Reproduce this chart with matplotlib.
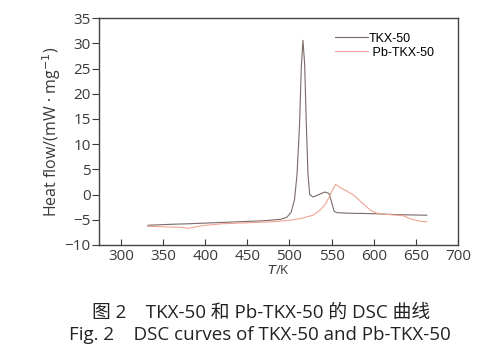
import matplotlib
matplotlib.use("Agg")
import matplotlib.pyplot as plt

plt.rcParams['font.family'] = ['Open Sans', 'Noto Sans CJK SC', 'DejaVu Sans']

# TKX-50 curve (T in K, heat flow in mW/mg)
tkx_T = [332, 360, 380, 410, 440, 470, 490, 497, 502, 506, 509, 512, 514, 516,
         518, 520, 522, 524, 528, 535, 542, 547, 550, 553, 556, 570, 600, 630, 663]
tkx_v = [-6.1, -5.9, -5.8, -5.6, -5.4, -5.2, -4.9, -4.5, -3.5, -1.0, 4.0, 14.0, 25.0, 30.6,
         26.0, 14.0, 4.0, 0.0, -0.5, 0.0, 0.5, 0.2, -1.5, -3.3, -3.6, -3.7, -3.8, -4.0, -4.1]

# Pb-TKX-50 curve
pb_T = [332, 350, 370, 380, 395, 420, 450, 480, 500, 515, 528, 537, 543, 548,
        552, 555, 560, 568, 576, 586, 596, 605, 620, 635, 645, 655, 663]
pb_v = [-6.3, -6.4, -6.5, -6.7, -6.2, -5.8, -5.6, -5.4, -5.1, -4.7, -4.1, -3.0, -1.8, -0.2,
        1.2, 2.0, 1.4, 0.7, -0.1, -1.6, -3.1, -3.8, -4.0, -4.2, -4.9, -5.3, -5.4]

xticks = [300, 350, 400, 450, 500, 550, 600, 650, 700]
yticks = [-10, -5, 0, 5, 10, 15, 20, 25, 30, 35]

fig = plt.figure(figsize=(5, 3.55), dpi=100)
ax = fig.add_axes([0.198, 0.31, 0.718, 0.639])

ax.plot(tkx_T, tkx_v, color='#7a6a66', linewidth=0.8, label='TKX-50')
ax.plot(pb_T, pb_v, color='#f2a496', linewidth=0.8, label=' Pb-TKX-50')

ax.set_xlim(274, 700)
ax.set_ylim(-10, 35)
ax.set_xticks(xticks)
ax.set_yticks(yticks)
ax.tick_params(axis='x', direction='in', length=4, pad=3, labelsize=11, colors='#3a3a3a')
ax.tick_params(axis='y', direction='out', length=5, pad=1, labelsize=11, colors='#3a3a3a')
for s in ax.spines.values():
    s.set_color('#444444')
    s.set_linewidth(1.0)

ax.set_ylabel('Heat flow/(mW · mg$^{-1}$)', fontsize=11.5, color='#3a3a3a', labelpad=1)
ax.set_xlabel('$T$/K', fontsize=9.5, color='#3a3a3a', labelpad=0)

leg = ax.legend(loc='upper right', bbox_to_anchor=(0.965, 0.985), frameon=False,
                handlelength=2.6, handletextpad=0.1, labelspacing=0.15,
                prop={'family': 'Liberation Sans', 'size': 9})

fig.text(0.522, 0.118, '图 2    TKX-50 和 Pb-TKX-50 的 DSC 曲线', ha='center', va='center',
         fontsize=13.5, color='#222222')
fig.text(0.52, 0.056, 'Fig. 2    DSC curves of TKX-50 and Pb-TKX-50', ha='center', va='center',
         fontsize=13.5, color='#222222')

fig.savefig('out.png', dpi=100, facecolor='white')
